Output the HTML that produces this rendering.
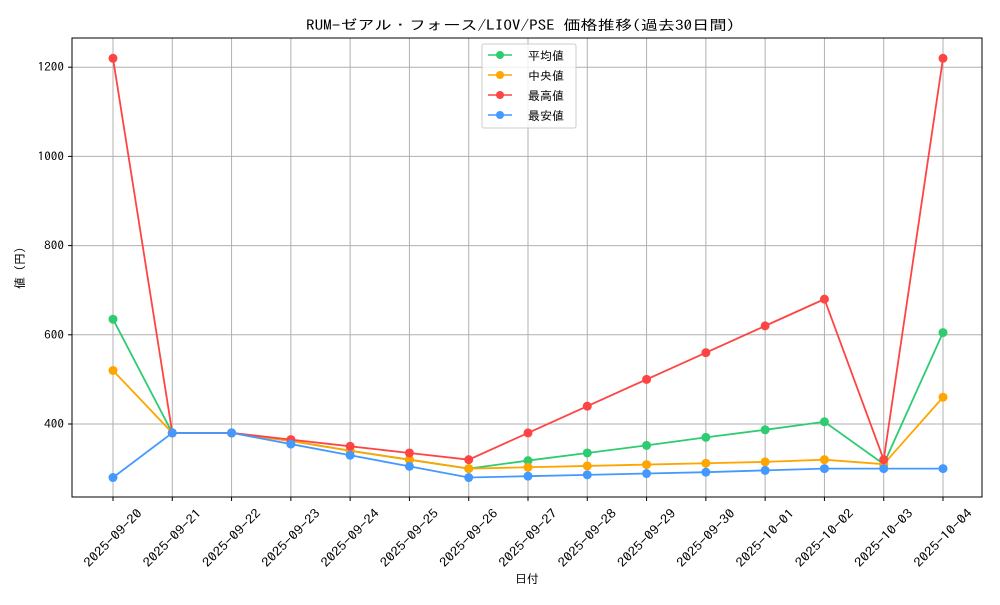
<!DOCTYPE html>
<html><head><meta charset="utf-8"><style>
body{margin:0;background:#fff}
svg text{font-family:"IPAGothic","Noto Sans CJK JP",monospace;fill:#000}
</style></head><body>
<svg width="1000" height="600" xmlns="http://www.w3.org/2000/svg">
<rect width="1000" height="600" fill="#fff"/>
<text x="306" y="30" font-size="14" textLength="429" lengthAdjust="spacingAndGlyphs">RUM-ゼアル・フォース/LIOV/PSE 価格推移(過去30日間)</text>
<g id="grid" stroke="#b0b0b0" stroke-width="1"></g>
<rect x="72" y="38" width="910" height="459" fill="none" stroke="#000" stroke-width="1"/>
<g id="ticks"></g>
<g id="series"></g>
<text x="527" y="583" font-size="12" text-anchor="middle">日付</text>
<text transform="translate(24,268) rotate(-90)" font-size="12" text-anchor="middle">値 (円)</text>
<g>
<rect x="482" y="44" width="94" height="84" fill="#fff" fill-opacity="0.8" stroke="#ccc" rx="2"/>
<line x1="488" y1="55" x2="512" y2="55" stroke="#2ecc71" stroke-width="1.5"/><circle cx="500" cy="55" r="4" fill="#2ecc71"/><text x="528" y="60" font-size="12">平均値</text>
<line x1="488" y1="75" x2="512" y2="75" stroke="#ffa500" stroke-width="1.5"/><circle cx="500" cy="75" r="4" fill="#ffa500"/><text x="528" y="80" font-size="12">中央値</text>
<line x1="488" y1="95" x2="512" y2="95" stroke="#ff4444" stroke-width="1.5"/><circle cx="500" cy="95" r="4" fill="#ff4444"/><text x="528" y="100" font-size="12">最高値</text>
<line x1="488" y1="115" x2="512" y2="115" stroke="#4499ff" stroke-width="1.5"/><circle cx="500" cy="115" r="4" fill="#4499ff"/><text x="528" y="120" font-size="12">最安値</text>
</g>
</svg>
<script>
const ns="http://www.w3.org/2000/svg";
function el(p,t,a,txt){const e=document.createElementNS(ns,t);for(const k in a)e.setAttribute(k,a[k]);if(txt!==undefined)e.textContent=txt;p.appendChild(e);return e;}
const X=i=>113+i*830/14, Y=v=>424-(v-400)*0.446;
const g=document.getElementById('grid'),tk=document.getElementById('ticks'),s=document.getElementById('series');
const dates=["2025-09-20","2025-09-21","2025-09-22","2025-09-23","2025-09-24","2025-09-25","2025-09-26","2025-09-27","2025-09-28","2025-09-29","2025-09-30","2025-10-01","2025-10-02","2025-10-03","2025-10-04"];
dates.forEach((d,i)=>{const x=X(i);el(g,'line',{x1:x,y1:38,x2:x,y2:497});el(tk,'line',{x1:x,y1:497,x2:x,y2:501,stroke:'#000'});
el(tk,'text',{x:0,y:0,'font-size':12.5,'text-anchor':'middle',textLength:76,lengthAdjust:'spacingAndGlyphs',transform:`translate(${x+3},${541}) rotate(-45)`},d);});
[400,600,800,1000,1200].forEach(v=>{const y=Y(v);el(g,'line',{x1:72,y1:y,x2:982,y2:y});el(tk,'line',{x1:68,y1:y,x2:72,y2:y,stroke:'#000'});
const w=String(v).length*6.6;el(tk,'text',{x:64-w,y:y+4,'font-size':12,textLength:w,lengthAdjust:'spacingAndGlyphs'},v);});
const data=[
["#2ecc71",[635,380,380,362,340,320,300,318,335,352,370,387,405,310,605]],
["#ffa500",[520,380,380,362,340,320,300,303,306,309,312,315,320,310,460]],
["#ff4444",[1220,380,380,365,350,335,320,380,440,500,560,620,680,320,1220]],
["#4499ff",[280,380,380,355,330,305,280,283,286,289,292,296,300,300,300]]];
data.forEach(([c,d])=>{el(s,'polyline',{points:d.map((v,i)=>X(i)+','+Y(v)).join(' '),fill:'none',stroke:c,'stroke-width':1.8});
d.forEach((v,i)=>el(s,'circle',{cx:X(i),cy:Y(v),r:4.5,fill:c}));});
</script>
</body></html>
